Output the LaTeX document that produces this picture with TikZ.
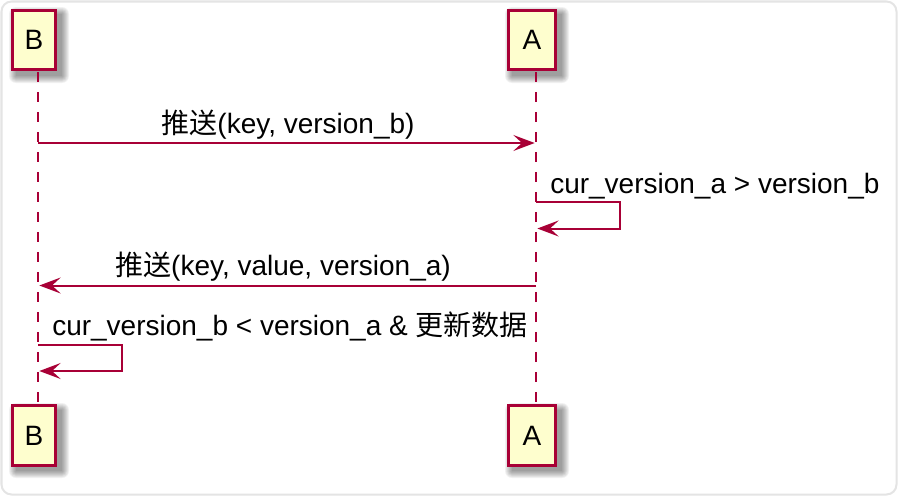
\documentclass[tikz,border=0pt]{standalone}
\usepackage{fontspec}
\setmainfont{Liberation Sans}
\newfontfamily\cjk{Noto Sans CJK SC}
\usetikzlibrary{arrows.meta}
\definecolor{umlred}{HTML}{A80036}
\definecolor{umlfill}{HTML}{FEFECE}
\definecolor{framegray}{HTML}{E4E4E4}
\tikzset{
  part/.style={draw=umlred, fill=umlfill, line width=2.25pt, inner sep=0pt,
    minimum height=44.5pt},
  lifeline/.style={draw=umlred, line width=1.5pt, dash pattern=on 7.5pt off 7.5pt},
  msg/.style={draw=umlred, line width=1.5pt,
    -{Stealth[length=16pt, width=12pt, inset=6.5pt]}, shorten >=1pt},
  lbl/.style={inner sep=0pt, text=black},
  shadowlayer/.style={fill=black, opacity=0.055},
}
\newcommand\mypartshadow[4]{%
  \foreach \r in {0,1,...,7}{%
    \fill[shadowlayer, rounded corners=\r*0.75pt]
      ({#1+5-\r},{#2+5-\r}) rectangle ({#3+5+\r},{#4+5+\r});
  }%
}
\begin{document}
\begin{tikzpicture}[x=0.75pt, y=-0.75pt, font=\fontsize{21}{25}\selectfont]
\useasboundingbox (0,0) rectangle (898,496);
\draw[framegray, fill=white, line width=1.5pt, rounded corners=7.5pt] (1.5,1.5) rectangle (896.5,494.5);

% shadows of participant boxes
\mypartshadow{11}{9}{57}{71}
\mypartshadow{507}{9}{557}{71}
\mypartshadow{11}{405}{57}{466}
\mypartshadow{507}{405}{557}{466}

% participants
\node[part, minimum width=32.5pt] (Btop) at (34,40) {B};
\node[part, minimum width=35.5pt] (Atop) at (532,40) {A};
\node[part, minimum width=32.5pt] (Bbot) at (34,435.5) {B};
\node[part, minimum width=35.5pt] (Abot) at (532,435.5) {A};

% lifeline anchors
\coordinate (BL1) at (38,72);
\coordinate (BL2) at (38,404);
\coordinate (AL1) at (536,72);
\coordinate (AL2) at (536,404);
\draw[lifeline] (BL1) -- (BL2);
\draw[lifeline] (AL1) -- (AL2);

% message 1
\coordinate (m1s) at (38,143);
\coordinate (m1e) at (536,143);
\draw[msg] (m1s) -- (m1e);
\node[lbl, anchor=base] (l1) at (288,133) {{\cjk 推送}(key, version\_b)};

% self message on A
\coordinate (s1a) at (536,202);
\coordinate (s1b) at (620,202);
\coordinate (s1c) at (620,228.5);
\coordinate (s1d) at (536,228.5);
\draw[msg] (s1a) -- (s1b) -- (s1c) -- (s1d);
\node[lbl, anchor=base west] (l2) at (550,193) {cur\_version\_a > version\_b};

% message 3
\coordinate (m3s) at (536,285.5);
\coordinate (m3e) at (38,285.5);
\draw[msg] (m3s) -- (m3e);
\node[lbl, anchor=base] (l3) at (283,275) {{\cjk 推送}(key, value, version\_a)};

% self message on B
\coordinate (s2a) at (38,344.5);
\coordinate (s2b) at (122,344.5);
\coordinate (s2c) at (122,371);
\coordinate (s2d) at (38,371);
\draw[msg] (s2a) -- (s2b) -- (s2c) -- (s2d);
\node[lbl, anchor=base west] (l4) at (52,335) {cur\_version\_b < version\_a \& {\cjk 更新数据}};
\end{tikzpicture}
\end{document}
